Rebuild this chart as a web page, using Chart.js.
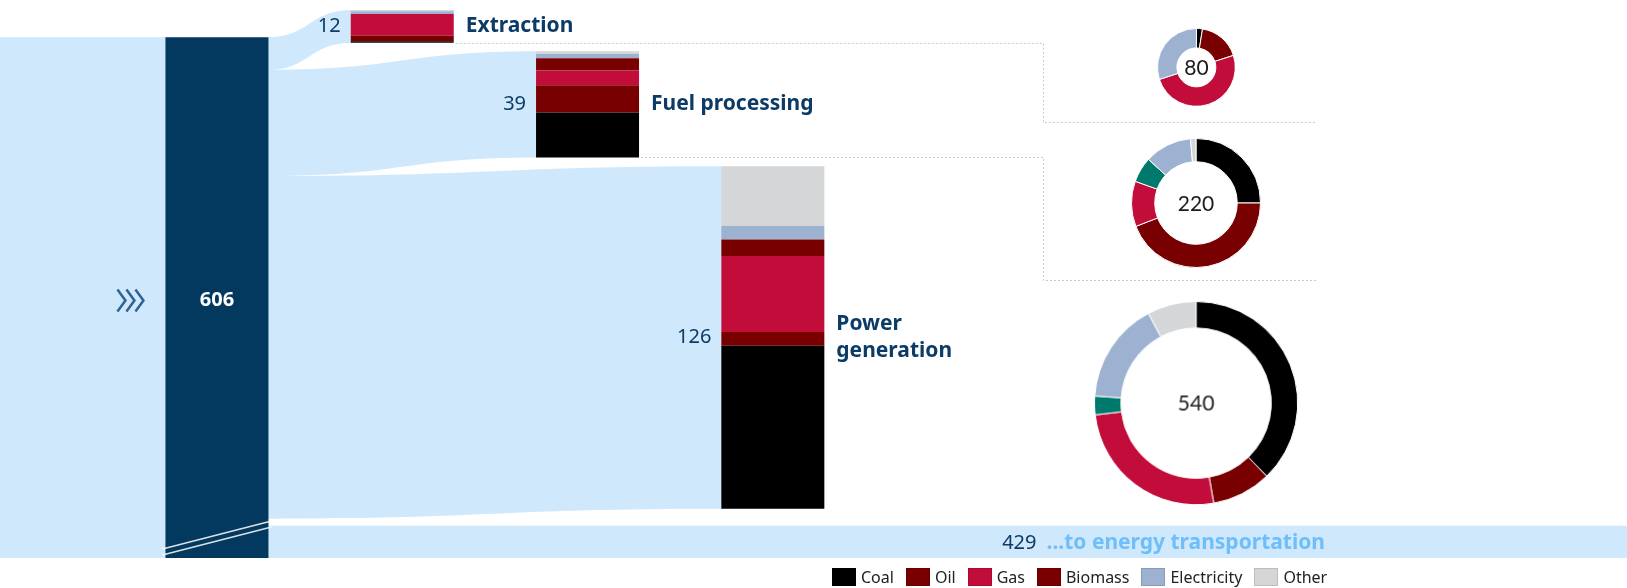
<!DOCTYPE html>
<html>
<head>
<meta charset="utf-8">
<title>Energy flow</title>
<script src="https://cdn.jsdelivr.net/npm/chart.js@4.4.1/dist/chart.umd.min.js"></script>
<style>
  html, body { margin: 0; padding: 0; background: #fff; }
  #wrap { position: relative; width: 1627px; height: 588px; overflow: hidden; font-family: 'Noto Sans', sans-serif; }
  #flow_box { position: absolute; left: 0; top: 0; width: 1627px; height: 588px; }
  .ring_box { position: absolute; }
  #legend { position: absolute; left: 832px; top: 567px; display: flex; font-size: 16px; color: #222; line-height: 20px; }
  .legend_item { display: flex; align-items: center; margin-right: 12px; }
  .legend_item i { display: inline-block; width: 24px; height: 18px; margin-right: 5px; box-shadow: inset 0 0 0 1px rgba(0,0,0,0.12); }
</style>
</head>
<body>
<div id="wrap">
  <div id="flow_box"><canvas id="flow_chart"></canvas></div>
  <div class="ring_box" id="ring_box_0"><canvas id="ring_0"></canvas></div>
  <div class="ring_box" id="ring_box_1"><canvas id="ring_1"></canvas></div>
  <div class="ring_box" id="ring_box_2"><canvas id="ring_2"></canvas></div>
  <div id="legend"></div>
</div>
<script>
// ---------- data ----------
const stage_names = ['Extraction', 'Fuel processing', ['Power', 'generation']]
const stage_totals = [12, 39, 126]
const input_total = 606
const transport_total = 429
const transport_name = '...to energy transportation'

const fuel_names = ['Coal', 'Oil', 'Gas', 'Biomass', 'Electricity', 'Other']
// one value per stage: Extraction, Fuel processing, Power generation
const coal_by_stage = [0.5, 16.5, 60]
const oil_by_stage = [2, 10, 5]
const gas_by_stage = [8, 5.5, 28]
const biomass_by_stage = [0, 4.5, 6]
const electricity_by_stage = [1, 1.5, 5]
const other_by_stage = [0.5, 1, 22]

const ring_names = ['Coal', 'Oil', 'Gas', 'Heat', 'Electricity', 'Other']
const ring_top_values = [2, 14, 40, 0, 24, 0]
const ring_middle_values = [55, 97, 25, 14, 26, 3]
const ring_bottom_values = [204, 51, 140, 16, 87, 42]

// ---------- styles ----------
const fuel_colors = ['#000000', '#780000', '#c20d3b', '#780000', '#9db2d0', '#d5d6d8']
const ring_colors = ['#000000', '#780000', '#c20d3b', '#00796d', '#9db2d0', '#d5d6d8']
const flow_color = '#cfe8fc'
const total_color = '#04395f'
const label_color = '#0c3b66'
const transport_text_color = '#6ebefa'
const dots_color = '#c8c8c8'
const FONT = "'Noto Sans'"

// ---------- layout ----------
const PX_PER_UNIT = 2.72
const CHART_TOP = 10
const CHART_BOTTOM = 558
const X_LEFT = 124.3
const CAT_STEP = 185.3
const BAR_WIDTH = 103
const Y_MAX = (CHART_BOTTOM - CHART_TOP) / PX_PER_UNIT
const SOURCE_TOP = 10      // where the total bar starts, in stage units
const STAGE_GAP = 3.2
const SOURCE_GAP = 2.6
const BRACKET_X = 1043
const BRACKET_END = 1316
const bracket_bottoms = [122, 280]
const TRANSPORT_LABEL_RIGHT = 1325
const RING_X = 1196
const ring_center_y = [67, 203, 403]
const RING_K = 4.35        // radius per sqrt(unit)
const ring_cutouts = ['50%', '64%', '74%']

const fuel_values = [coal_by_stage, oil_by_stage, gas_by_stage, biomass_by_stage, electricity_by_stage, other_by_stage]

// waterfall tops of the stage bars
const stage_tops = []
stage_totals.forEach((t, i) => {
  stage_tops.push(i === 0 ? 0 : stage_tops[i - 1] + stage_totals[i - 1] + STAGE_GAP)
})

// where each link leaves the total bar
const source_tops = []
let source_run = SOURCE_TOP
stage_totals.forEach(t => {
  source_tops.push(source_run)
  source_run += t
})
const transport_top = source_run + SOURCE_GAP

const fuel_datasets = fuel_names.map((name, f) => ({
  label: name,
  data: [null].concat(stage_totals.map((t, i) => {
    let bottom = stage_tops[i] + t
    for (let g = 0; g < f; g++) bottom -= fuel_values[g][i]
    const v = fuel_values[f][i]
    return v > 0 ? [bottom - v, bottom] : null
  })),
  backgroundColor: fuel_colors[f],
  yAxisID: 'y',
  stack: 'all',
  barPercentage: BAR_WIDTH / CAT_STEP,
  categoryPercentage: 1
}))

function draw_link(ctx, x0, s0, s1, x1, t0, t1) {
  const xm = (x0 + x1) / 2
  ctx.beginPath()
  ctx.moveTo(x0, s0)
  ctx.bezierCurveTo(xm, s0, xm, t0, x1, t0)
  ctx.lineTo(x1, t1)
  ctx.bezierCurveTo(xm, t1, xm, s1, x0, s1)
  ctx.closePath()
  ctx.fill()
}

const flow_plugin = {
  id: 'flows',
  beforeDatasetsDraw(chart) {
    const ctx = chart.ctx
    const x = chart.scales.x
    const y = chart.scales.y
    const total_bar = chart.getDatasetMeta(0).data[0]
    const half = total_bar.width / 2
    const total_left = total_bar.x - half
    const total_right = total_bar.x + half

    ctx.save()
    ctx.fillStyle = flow_color
    // incoming band
    ctx.fillRect(0, y.getPixelForValue(SOURCE_TOP), total_left + 1,
      y.getPixelForValue(Y_MAX) - y.getPixelForValue(SOURCE_TOP))

    // links to each stage
    stage_totals.forEach((t, i) => {
      const stage_left = x.getPixelForValue(i + 1) - half
      draw_link(ctx,
        total_right - 1, y.getPixelForValue(source_tops[i]), y.getPixelForValue(source_tops[i] + t),
        stage_left + 1, y.getPixelForValue(stage_tops[i]), y.getPixelForValue(stage_tops[i] + t))
    })

    // onward band
    ctx.fillRect(total_right - 1, y.getPixelForValue(transport_top), chart.width - total_right + 1,
      y.getPixelForValue(Y_MAX) - y.getPixelForValue(transport_top))

    // dotted brackets towards the rings
    ctx.strokeStyle = dots_color
    ctx.lineWidth = 1
    ctx.setLineDash([2, 2])
    bracket_bottoms.forEach((bottom, i) => {
      const sy = Math.round(y.getPixelForValue(stage_tops[i] + stage_totals[i])) + 0.5
      ctx.beginPath()
      ctx.moveTo(x.getPixelForValue(i + 1) + half + 2, sy)
      ctx.lineTo(BRACKET_X + 0.5, sy)
      ctx.lineTo(BRACKET_X + 0.5, bottom + 0.5)
      ctx.lineTo(BRACKET_END, bottom + 0.5)
      ctx.stroke()
    })
    ctx.restore()
  },
  afterDatasetsDraw(chart) {
    const ctx = chart.ctx
    const x = chart.scales.x
    const y = chart.scales.y
    const total_bar = chart.getDatasetMeta(0).data[0]
    const half = total_bar.width / 2
    const total_left = total_bar.x - half
    const total_right = total_bar.x + half
    const bottom = Math.max(total_bar.base, total_bar.y)
    const top = Math.min(total_bar.base, total_bar.y)
    const mid = (top + bottom) / 2 + 3

    ctx.save()
    // break marks on the total bar
    ctx.strokeStyle = 'rgba(255,255,255,0.85)'
    ctx.lineWidth = 1.5
    ;[0, 6].forEach(off => {
      ctx.beginPath()
      ctx.moveTo(total_left - 3, bottom - 9 + off)
      ctx.lineTo(total_right + 3, bottom - 37 + off)
      ctx.stroke()
    })

    // total value
    ctx.fillStyle = '#fff'
    ctx.font = `bold 20px ${FONT}`
    ctx.textAlign = 'center'
    ctx.textBaseline = 'middle'
    ctx.fillText(String(input_total), total_bar.x, mid)

    // chevrons on the incoming band
    ctx.strokeStyle = '#2f6393'
    ctx.lineWidth = 2.5
    for (let k = 0; k < 3; k++) {
      const cx = total_left - 48 + k * 9
      ctx.beginPath()
      ctx.moveTo(cx, mid - 11)
      ctx.lineTo(cx + 8, mid)
      ctx.lineTo(cx, mid + 11)
      ctx.stroke()
    }

    // stage values and names
    stage_totals.forEach((t, i) => {
      const cx = x.getPixelForValue(i + 1)
      const cy = (y.getPixelForValue(stage_tops[i]) + y.getPixelForValue(stage_tops[i] + t)) / 2
      ctx.fillStyle = label_color
      ctx.font = `20px ${FONT}`
      ctx.textAlign = 'right'
      ctx.fillText(String(t), cx - half - 10, cy)
      ctx.font = `bold 21px ${FONT}`
      ctx.textAlign = 'left'
      const lines = [].concat(chart.data.labels[i + 1])
      lines.forEach((line, l) => {
        ctx.fillText(line, cx + half + 12, cy + (l - (lines.length - 1) / 2) * 27)
      })
    })

    // onward label
    const ty = (y.getPixelForValue(transport_top) + y.getPixelForValue(Y_MAX)) / 2 + 1
    ctx.textAlign = 'right'
    ctx.font = `bold 21px ${FONT}`
    ctx.fillStyle = transport_text_color
    ctx.fillText(transport_name, TRANSPORT_LABEL_RIGHT, ty)
    const name_width = ctx.measureText(transport_name).width
    ctx.font = `20px ${FONT}`
    ctx.fillStyle = label_color
    ctx.fillText(String(transport_total), TRANSPORT_LABEL_RIGHT - name_width - 10, ty)
    ctx.restore()
  }
}

const flow_chart = new Chart(document.getElementById('flow_chart').getContext('2d'), {
  type: 'bar',
  data: {
    labels: ['Input'].concat(stage_names),
    datasets: [
      {
        label: 'Total',
        data: [input_total, null, null, null],
        backgroundColor: total_color,
        yAxisID: 'yTotal',
        stack: 'all',
        barPercentage: BAR_WIDTH / CAT_STEP,
        categoryPercentage: 1
      }
    ].concat(fuel_datasets)
  },
  options: {
    responsive: true,
    maintainAspectRatio: false,
    animation: false,
    layout: {
      padding: {
        left: X_LEFT,
        right: 1627 - X_LEFT - CAT_STEP * 4,
        top: CHART_TOP,
        bottom: 588 - CHART_BOTTOM
      }
    },
    plugins: {
      legend: { display: false },
      tooltip: { enabled: true }
    },
    scales: {
      x: { type: 'category', stacked: true, display: false },
      y: { type: 'linear', stacked: false, reverse: true, min: 0, max: Y_MAX, display: false },
      yTotal: {
        type: 'linear',
        stacked: false,
        reverse: true,
        min: -input_total * SOURCE_TOP / (Y_MAX - SOURCE_TOP),
        max: input_total,
        display: false
      }
    }
  },
  plugins: [flow_plugin]
})

// ---------- rings ----------
const ring_center_plugin = {
  id: 'ring_center',
  afterDraw(chart) {
    const arc = chart.getDatasetMeta(0).data[0]
    const total = chart.data.datasets[0].data.reduce((a, b) => a + b, 0)
    const ctx = chart.ctx
    ctx.save()
    ctx.fillStyle = '#1b1b1b'
    ctx.font = '21px Lato'
    ctx.textAlign = 'center'
    ctx.textBaseline = 'middle'
    ctx.fillText(String(total), arc.x, arc.y + 1)
    ctx.restore()
  }
}

const ring_sets = [ring_top_values, ring_middle_values, ring_bottom_values]
ring_sets.forEach((values, i) => {
  const total = values.reduce((a, b) => a + b, 0)
  const r = RING_K * Math.sqrt(total)
  const box = document.getElementById('ring_box_' + i)
  const size = 2 * r + 1
  box.style.width = size + 'px'
  box.style.height = size + 'px'
  box.style.left = (RING_X - size / 2) + 'px'
  box.style.top = (ring_center_y[i] - size / 2) + 'px'

  new Chart(document.getElementById('ring_' + i).getContext('2d'), {
    type: 'doughnut',
    data: {
      labels: ring_names,
      datasets: [{
        data: values,
        backgroundColor: ring_colors,
        borderColor: '#fff',
        borderWidth: 1
      }]
    },
    options: {
      responsive: true,
      maintainAspectRatio: false,
      animation: false,
      cutout: ring_cutouts[i],
      plugins: { legend: { display: false } }
    },
    plugins: [ring_center_plugin]
  })
})

// ---------- legend ----------
const legend_el = document.getElementById('legend')
fuel_names.forEach((name, i) => {
  const item = document.createElement('span')
  item.className = 'legend_item'
  item.innerHTML = `<i style="background:${fuel_colors[i]}"></i>${name}`
  legend_el.appendChild(item)
})
</script>
</body>
</html>
